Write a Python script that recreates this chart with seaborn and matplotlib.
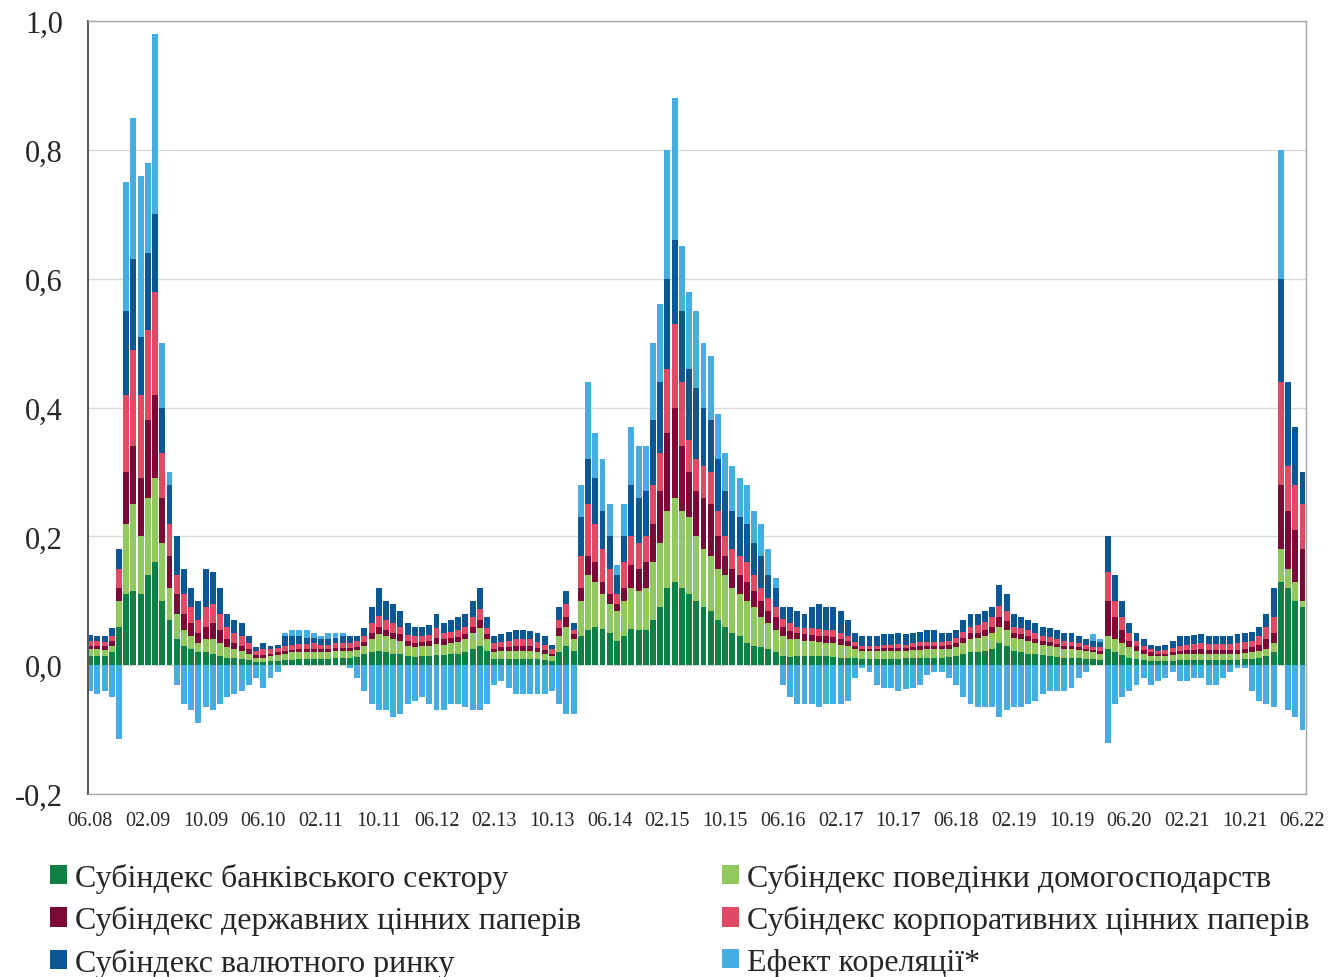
import numpy as np
import pandas as pd
import matplotlib
matplotlib.use("Agg")
import matplotlib.pyplot as plt
import seaborn as sns
from matplotlib.patches import Patch

# ---------------------------------------------------------------------------
# Data: monthly contributions to the financial stress index, 06.08 - 06.22
# ---------------------------------------------------------------------------
months = pd.date_range("2008-06-01", "2022-06-01", freq="MS")

bank = [
    .015, .015, .015, .020, .060, .110, .115, .110, .140, .160, .100, .070,
    .040, .030, .025, .020, .020, .018, .015, .012, .012, .010, .008, .005,
    .005, .006, .007, .008, .008, .009, .009, .010, .010, .010, .011, .011,
    .012, .013, .017, .020, .022, .020, .018, .017, .014, .013, .014, .015,
    .016, .016, .017, .017, .020, .025, .030, .022, .010, .010, .010, .010,
    .010, .010, .010, .008, .006, .020, .030, .022, .045, .055, .060, .056,
    .050, .038, .045, .056, .055, .055, .070, .090, .120, .130, .120, .110,
    .100, .090, .085, .070, .060, .050, .045, .035, .030, .028, .025, .020,
    .015, .013, .015, .015, .015, .014, .014, .013, .012, .012, .011, .010,
    .010, .010, .010, .010, .010, .011, .011, .012, .012, .012, .012, .013,
    .014, .018, .020, .020, .022, .025, .034, .030, .022, .020, .018, .018,
    .016, .015, .013, .012, .012, .011, .010, .010, .008, .025, .020, .016,
    .012, .010, .008, .006, .006, .006, .007, .008, .008, .008, .008, .008,
    .008, .008, .008, .008, .009, .010, .012, .015, .020, .130, .120, .100,
    .090]
households = [
    .010, .010, .009, .010, .040, .110, .135, .090, .120, .130, .090, .050,
    .040, .025, .020, .015, .020, .022, .020, .016, .013, .012, .010, .007,
    .007, .008, .009, .010, .012, .011, .011, .011, .010, .010, .011, .011,
    .010, .011, .013, .020, .026, .025, .022, .021, .016, .015, .016, .015,
    .017, .016, .018, .019, .020, .025, .028, .018, .010, .012, .012, .012,
    .012, .012, .010, .010, .008, .025, .030, .018, .055, .085, .070, .054,
    .045, .047, .055, .064, .060, .065, .090, .100, .120, .130, .120, .120,
    .100, .090, .085, .080, .080, .070, .065, .065, .060, .047, .040, .035,
    .030, .027, .025, .023, .022, .022, .021, .021, .020, .018, .014, .012,
    .012, .012, .012, .012, .012, .011, .012, .012, .013, .013, .013, .013,
    .014, .017, .020, .022, .023, .025, .026, .025, .020, .020, .019, .017,
    .016, .015, .015, .014, .013, .013, .012, .010, .010, .020, .020, .019,
    .016, .012, .010, .009, .008, .008, .009, .010, .010, .010, .010, .010,
    .010, .010, .010, .010, .010, .010, .010, .010, .015, .050, .030, .030,
    .010]
gov_securities = [
    .005, .005, .006, .007, .020, .080, .090, .090, .120, .130, .070, .050,
    .030, .025, .020, .015, .020, .025, .020, .012, .010, .008, .007, .004,
    .004, .004, .004, .004, .004, .005, .005, .005, .005, .005, .005, .005,
    .005, .005, .006, .010, .012, .010, .010, .010, .008, .007, .006, .007,
    .009, .008, .008, .008, .008, .010, .012, .008, .006, .006, .006, .008,
    .008, .008, .007, .006, .004, .013, .015, .008, .020, .030, .030, .020,
    .015, .010, .020, .035, .035, .040, .060, .080, .120, .140, .100, .070,
    .070, .080, .080, .050, .030, .030, .030, .030, .025, .025, .020, .020,
    .015, .013, .010, .010, .010, .009, .010, .010, .008, .007, .005, .004,
    .004, .004, .005, .005, .005, .005, .005, .006, .005, .005, .005, .005,
    .006, .007, .010, .008, .010, .010, .015, .013, .008, .008, .008, .005,
    .006, .006, .005, .004, .005, .004, .004, .004, .004, .055, .035, .020,
    .010, .008, .006, .005, .004, .004, .004, .004, .005, .006, .007, .006,
    .006, .006, .006, .006, .007, .008, .010, .015, .015, .100, .090, .080,
    .080]
corp_securities = [
    .008, .007, .006, .009, .030, .120, .150, .130, .140, .160, .070, .050,
    .030, .030, .025, .020, .030, .030, .025, .020, .015, .015, .010, .006,
    .009, .007, .007, .008, .008, .008, .008, .008, .007, .007, .008, .008,
    .008, .008, .010, .015, .016, .015, .015, .012, .009, .010, .010, .010,
    .016, .010, .009, .010, .012, .015, .018, .010, .008, .008, .010, .010,
    .010, .010, .009, .008, .007, .012, .020, .007, .050, .080, .060, .050,
    .040, .015, .040, .045, .040, .040, .060, .060, .100, .130, .100, .050,
    .050, .050, .050, .040, .030, .030, .030, .030, .025, .020, .020, .015,
    .012, .012, .010, .010, .011, .011, .010, .011, .010, .008, .006, .004,
    .004, .004, .005, .005, .006, .005, .006, .006, .006, .006, .006, .007,
    .008, .010, .010, .012, .012, .015, .017, .017, .010, .010, .010, .010,
    .007, .008, .007, .007, .006, .006, .005, .005, .006, .045, .025, .020,
    .012, .008, .006, .005, .004, .006, .007, .008, .009, .009, .009, .009,
    .009, .009, .009, .010, .010, .010, .013, .020, .025, .160, .070, .070,
    .070]
fx_market = [
    .009, .008, .009, .012, .030, .130, .140, .090, .120, .120, .070, .060,
    .060, .040, .030, .030, .060, .050, .040, .020, .020, .020, .010, .006,
    .010, .005, .005, .015, .013, .012, .009, .008, .008, .008, .007, .010,
    .010, .009, .012, .025, .044, .030, .030, .025, .018, .015, .014, .015,
    .022, .015, .018, .021, .020, .025, .032, .017, .011, .012, .014, .015,
    .015, .013, .014, .013, .007, .020, .020, .010, .060, .070, .070, .060,
    .050, .030, .040, .080, .070, .070, .100, .110, .140, .130, .110, .110,
    .110, .090, .080, .080, .070, .060, .060, .060, .050, .050, .035, .030,
    .018, .025, .025, .022, .032, .039, .035, .035, .035, .025, .014, .015,
    .015, .015, .016, .016, .017, .016, .016, .016, .019, .019, .014, .012,
    .013, .018, .020, .018, .018, .015, .033, .025, .020, .017, .015, .015,
    .015, .014, .015, .013, .014, .011, .009, .009, .008, .055, .040, .025,
    .015, .012, .010, .007, .008, .008, .011, .015, .013, .014, .014, .012,
    .013, .013, .013, .014, .014, .014, .015, .020, .045, .160, .130, .090,
    .050]
correlation = [
    -.040, -.045, -.040, -.050, -.115, .200, .220, .250, .140, .280, .100, .020,
    -.030, -.060, -.070, -.090, -.065, -.070, -.060, -.050, -.045, -.040, -.030, -.020,
    -.035, -.020, -.010, .005, .010, .010, .012, .008, .005, .010, .008, .005,
    -.005, -.020, -.040, -.060, -.070, -.070, -.080, -.075, -.060, -.055, -.050, -.060,
    -.070, -.070, -.060, -.060, -.065, -.070, -.070, -.060, -.030, -.025, -.035, -.045,
    -.045, -.045, -.045, -.045, -.040, -.060, -.075, -.075, .050, .120, .070, .080,
    .050, .015, .050, .090, .080, .070, .120, .120, .200, .220, .100, .120,
    .120, .100, .100, .070, .060, .070, .060, .060, .050, .050, .040, .015,
    -.030, -.050, -.060, -.060, -.060, -.065, -.060, -.060, -.060, -.055, -.020, -.005,
    -.010, -.030, -.035, -.035, -.040, -.037, -.035, -.030, -.015, -.010, -.010, -.020,
    -.030, -.050, -.060, -.065, -.065, -.065, -.080, -.070, -.065, -.065, -.060, -.055,
    -.045, -.040, -.040, -.040, -.035, -.020, -.010, .010, .005, -.120, -.060, -.050,
    -.040, -.030, -.020, -.030, -.025, -.020, -.010, -.025, -.025, -.020, -.020, -.030,
    -.030, -.020, -.010, -.005, -.005, -.040, -.055, -.060, -.065, .200, -.070, -.080,
    -.100]

series_names = [
    "Субіндекс банківського сектору",
    "Субіндекс поведінки домогосподарств",
    "Субіндекс державних цінних паперів",
    "Субіндекс корпоративних цінних паперів",
    "Субіндекс валютного ринку",
    "Ефект кореляції*",
]
colors = ["#0e7f45", "#92c95f", "#7b0b36", "#e04a65", "#0b5796", "#45ade2"]

y_ticks = [-0.2, 0.0, 0.2, 0.4, 0.6, 0.8, 1.0]

# ---------------------------------------------------------------------------
# Plot
# ---------------------------------------------------------------------------
sns.set_style("white")
plt.rcParams["font.family"] = ["Liberation Serif", "DejaVu Serif"]

df = pd.DataFrame({
    "date": months,
    series_names[0]: bank,
    series_names[1]: households,
    series_names[2]: gov_securities,
    series_names[3]: corp_securities,
    series_names[4]: fx_market,
    series_names[5]: correlation,
})

fig = plt.figure(figsize=(13.43, 9.78), dpi=100)
ax = fig.add_axes([0.0655, 0.187, 0.907, 0.7905])

x = np.arange(len(df))
width = 0.82
bottom = np.zeros(len(df))
for name, col in zip(series_names[:5], colors[:5]):
    vals = df[name].to_numpy()
    ax.bar(x, vals, width=width, bottom=bottom, color=col, linewidth=0)
    bottom = bottom + vals

# correlation effect sits on top when positive, below zero when negative
corr = df[series_names[5]].to_numpy()
corr_bottom = np.where(corr > 0, bottom, 0.0)
ax.bar(x, corr, width=width, bottom=corr_bottom, color=colors[5], linewidth=0)

ax.set_ylim(-0.2, 1.0)
ax.set_xlim(-0.3, len(df) - 0.5)
ax.set_yticks(y_ticks)
ax.set_yticklabels([f"{v:.1f}".replace(".", ",") for v in y_ticks], fontsize=22)
tick_pos = x[::8]
ax.set_xticks(tick_pos)
ax.set_xticklabels([d.strftime("%m.%y") for d in df["date"].iloc[::8]], fontsize=14.5)
ax.tick_params(axis="x", length=0, pad=12)
ax.tick_params(axis="y", direction="in", length=6, width=1.2, color="#555555", pad=18)
ax.yaxis.grid(True, color="#d9d9d9", linewidth=1)
ax.set_axisbelow(True)
for side in ["top", "right", "bottom"]:
    ax.spines[side].set_color("#a6a6a6")
    ax.spines[side].set_linewidth(1)
ax.spines["left"].set_color("#595959")
ax.spines["left"].set_linewidth(1.5)

# legend: two columns, filled column by column
order = [0, 2, 4, 1, 3, 5]
handles = [Patch(facecolor=colors[i], edgecolor="none") for i in order]
labels = [series_names[i] for i in order]
fig.legend(handles, labels, loc="upper left", bbox_to_anchor=(0.037, 0.117),
           ncol=2, frameon=False, fontsize=23, handlelength=0.55, handleheight=0.55,
           handletextpad=0.25, columnspacing=4.4, labelspacing=0.4,
           borderaxespad=0, borderpad=0)

fig.savefig("out.png", dpi=100)
